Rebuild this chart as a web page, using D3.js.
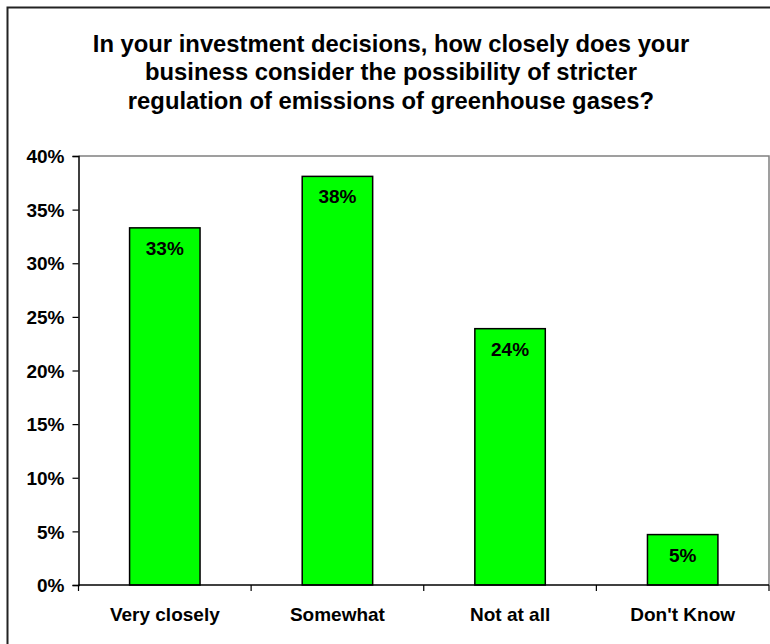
<!DOCTYPE html>
<html>
<head>
<meta charset="utf-8">
<script src="https://cdn.jsdelivr.net/npm/d3@7/dist/d3.min.js"></script>
<style>
  html, body { margin: 0; padding: 0; background: #fff; }
  svg { display: block; font-family: Arial, "Liberation Sans", sans-serif; }
</style>
</head>
<body>
<svg id="chart" width="770" height="644"></svg>
<script>
// Survey responses
const categories = ["Very closely", "Somewhat", "Not at all", "Don't Know"];
const shares = [0.333, 0.381, 0.239, 0.047];
const yTicks = [0, 0.05, 0.10, 0.15, 0.20, 0.25, 0.30, 0.35, 0.40];
const titleLines = [
  "In your investment decisions, how closely does your",
  "business consider the possibility of stricter",
  "regulation of emissions of greenhouse gases?"
];

const svg = d3.select("#chart");
const W = 770, H = 644;
const plot = { left: 78.5, right: 769, top: 156, bottom: 585 };

// Outer chart frame (runs past the right and bottom edges)
svg.append("rect")
  .attr("x", 7.5).attr("y", 7.5)
  .attr("width", W + 20).attr("height", H + 20)
  .attr("fill", "#fff").attr("stroke", "#222").attr("stroke-width", 2);

// Title
const title = svg.append("text")
  .attr("text-anchor", "middle")
  .attr("font-weight", "bold")
  .attr("font-size", 23.8)
  .attr("fill", "#000");
titleLines.forEach((line, i) => {
  title.append("tspan").attr("x", 391).attr("y", 51.5 + i * 28.5).text(line);
});

// Scales
const x = d3.scaleBand().domain(categories).range([plot.left, plot.right]).padding(0);
const y = d3.scaleLinear().domain([0, 0.40]).range([plot.bottom, plot.top]);
const barW = x.bandwidth() / 2.45;

// Plot area border (top and right, grey)
svg.append("path")
  .attr("d", `M${plot.left},${plot.top}H${plot.right}V${plot.bottom}`)
  .attr("fill", "none").attr("stroke", "#808080").attr("stroke-width", 1.5);

// Bars
svg.append("g").selectAll("rect")
  .data(categories.map((c, i) => ({ c, v: shares[i] })))
  .join("rect")
  .attr("x", d => x(d.c) + x.bandwidth() / 2 - barW / 2)
  .attr("y", d => y(d.v))
  .attr("width", barW)
  .attr("height", d => y(0) - y(d.v))
  .attr("fill", "#00ff00")
  .attr("stroke", "#000")
  .attr("stroke-width", 1.5);

// Value labels inside bar tops
const fmt = d3.format(".0%");
svg.append("g").selectAll("text")
  .data(categories.map((c, i) => ({ c, v: shares[i] })))
  .join("text")
  .attr("x", d => x(d.c) + x.bandwidth() / 2)
  .attr("y", d => y(d.v) + 27)
  .attr("text-anchor", "middle")
  .attr("font-weight", "bold")
  .attr("font-size", 19)
  .attr("fill", "#000")
  .text(d => fmt(d.v));

// Y axis
const yAxis = svg.append("g")
  .attr("transform", `translate(${plot.left},0)`)
  .call(d3.axisLeft(y).tickValues(yTicks).tickFormat(fmt).tickSize(6).tickPadding(8));
yAxis.select(".domain").attr("stroke", "#000").attr("stroke-width", 1.5);
yAxis.selectAll(".tick line").attr("stroke", "#000").attr("stroke-width", 1.2);
yAxis.selectAll(".tick text")
  .attr("font-family", "Arial, 'Liberation Sans', sans-serif")
  .attr("font-size", 19).attr("font-weight", "bold").attr("fill", "#000")
  .attr("dy", "0.35em");

// X axis: baseline, boundary ticks, category labels
const xAxis = svg.append("g")
  .attr("transform", `translate(0,${plot.bottom})`)
  .call(d3.axisBottom(x).tickSize(0).tickPadding(23));
xAxis.select(".domain").remove();
xAxis.selectAll(".tick text")
  .attr("font-family", "Arial, 'Liberation Sans', sans-serif")
  .attr("font-size", 19).attr("font-weight", "bold").attr("fill", "#000");
svg.append("line")
  .attr("x1", plot.left).attr("x2", plot.right)
  .attr("y1", plot.bottom).attr("y2", plot.bottom)
  .attr("stroke", "#000").attr("stroke-width", 1.5);
const bounds = categories.map(c => x(c)).concat([x.range()[1]]);
svg.append("g").selectAll("line")
  .data(bounds)
  .join("line")
  .attr("x1", d => d).attr("x2", d => d)
  .attr("y1", plot.bottom).attr("y2", plot.bottom + 6)
  .attr("stroke", "#000").attr("stroke-width", 1.2);
</script>
</body>
</html>
